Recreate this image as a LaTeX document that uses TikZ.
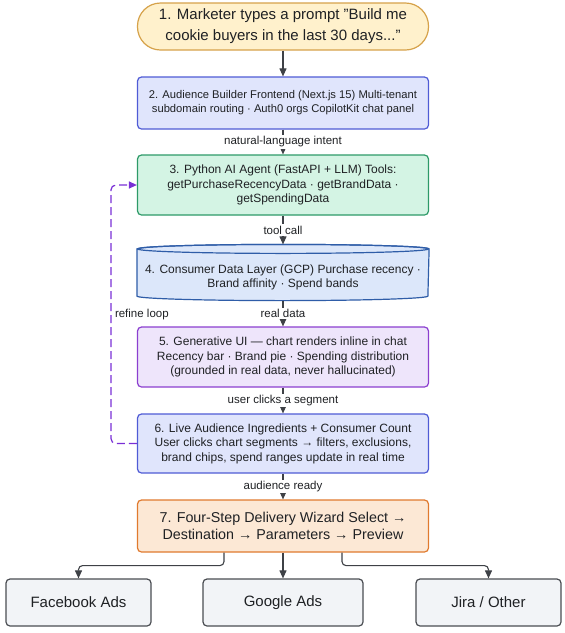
\documentclass[tikz,border=0pt]{standalone}
\usepackage{fontspec}
\setmainfont{Liberation Sans}
\usetikzlibrary{positioning, arrows.meta, backgrounds}

\definecolor{txt}{HTML}{1F2124}
\definecolor{ink}{HTML}{3E4146}
\definecolor{startfill}{HTML}{FFF1CC}
\definecolor{startdraw}{HTML}{D6A24A}
\definecolor{bluefill}{HTML}{E0E5FC}
\definecolor{bluedraw}{HTML}{4F5BD5}
\definecolor{greenfill}{HTML}{D4F4E4}
\definecolor{greendraw}{HTML}{2D9A68}
\definecolor{datafill}{HTML}{DCE7FA}
\definecolor{datadraw}{HTML}{2F5DA8}
\definecolor{purplefill}{HTML}{EEE5FB}
\definecolor{purpledraw}{HTML}{8B3FCF}
\definecolor{orangefill}{HTML}{FCE8D5}
\definecolor{orangedraw}{HTML}{E07A2E}
\definecolor{greyfill}{HTML}{F2F4F7}
\definecolor{greydraw}{HTML}{4A4D52}
\definecolor{loopc}{HTML}{7A2FD6}

\begin{document}
\begin{tikzpicture}[x=1pt,y=1pt,node distance=27pt,
  box/.style={rectangle,rounded corners=4pt,line width=1.2pt,minimum width=291pt,
    align=center,text=txt,font=\fontsize{12}{14.5}\selectfont},
  start node/.style={box,rounded corners=23pt,draw=startdraw,fill=startfill,
    minimum height=47pt,font=\fontsize{15}{21}\selectfont},
  front node/.style={box,draw=bluedraw,fill=bluefill,minimum height=52pt,
    font=\fontsize{11.2}{14}\selectfont},
  agent node/.style={box,draw=greendraw,fill=greenfill,minimum height=60pt},
  data node/.style={box,draw=none,minimum height=55pt,
    font=\fontsize{12}{14}\selectfont},
  ui node/.style={box,draw=purpledraw,fill=purplefill,minimum height=60pt},
  live node/.style={box,draw=bluedraw,fill=bluefill,minimum height=59pt},
  wizard node/.style={box,draw=orangedraw,fill=orangefill,minimum height=52pt,
    font=\fontsize{14.3}{16.7}\selectfont},
  dest node/.style={box,draw=greydraw,fill=greyfill,minimum height=47pt,
    minimum width=145pt,font=\fontsize{15}{18}\selectfont},
  flow/.style={draw=ink,line width=1.1pt,-{Triangle[length=8pt,width=7pt]}},
  lbl/.style={fill=white,text=txt,inner sep=1.5pt,font=\fontsize{11.5}{13}\selectfont},
  loopline/.style={draw=loopc,line width=1.2pt,dash pattern=on 8pt off 4pt,
    rounded corners=5pt,-{Triangle[length=8pt,width=7pt]}}]

  \useasboundingbox (0,0) rectangle (565,-633);

  % main column
  \node[start node] (n1) at (283,-26.5) {1. Marketer types a prompt "Build me\\cookie buyers in the last 30 days..."};
  \node[front node] (n2) [below=25.8pt of n1] {2. Audience Builder Frontend (Next.js 15) Multi-tenant\\subdomain routing · Auth0 orgs CopilotKit chat panel};
  \node[agent node] (n3) [below=24.8pt of n2] {3. Python AI Agent (FastAPI + LLM) Tools:\\getPurchaseRecencyData · getBrandData ·\\getSpendingData};
  \node[data node] (n4) [below=28.8pt of n3] {\mbox{}\\[4pt]4. Consumer Data Layer (GCP) Purchase recency ·\\Brand affinity · Spend bands};
  \node[ui node] (n5) [below=25.8pt of n4] {5. Generative UI — chart renders inline in chat\\Recency bar · Brand pie · Spending distribution\\(grounded in real data, never hallucinated)};
  \node[live node] (n6) [below=25.8pt of n5] {6. Live Audience Ingredients + Consumer Count\\User clicks chart segments → filters, exclusions,\\brand chips, spend ranges update in real time};
  \node[wizard node] (n7) [below=25.8pt of n6] {7. Four-Step Delivery Wizard Select →\\Destination → Parameters → Preview};

  % destinations
  \node[dest node,minimum width=160pt] (gads) [below=25.8pt of n7] {Google Ads};
  \node[dest node] (fb) [left=50.8pt of gads] {Facebook Ads};
  \node[dest node] (jira) [right=51.8pt of gads] {Jira / Other};

  % data store drawn as a cylinder
  \begin{scope}[on background layer]
    \path[draw=datadraw,fill=datafill,line width=1.2pt]
      ([yshift=-4.5pt]n4.north west) -- ([yshift=4.5pt]n4.south west)
      arc[start angle=180,end angle=360,x radius=145.5pt,y radius=4.5pt]
      -- ([yshift=-4.5pt]n4.north east)
      arc[start angle=0,end angle=180,x radius=145.5pt,y radius=4.5pt] -- cycle;
    \draw[datadraw,line width=1.2pt] ([yshift=-4.5pt]n4.north) ellipse[x radius=145.5pt,y radius=4.5pt];
  \end{scope}

  \draw[flow] (n1) -- (n2);
  \foreach \s/\t/\l in {n2/n3/natural-language intent, n3/n4/tool call,
    n4/n5/real data, n5/n6/user clicks a segment, n6/n7/audience ready} {
    \draw[flow] (\s) -- node[lbl] {\l} (\t);}

  \draw[flow] (n7) -- (gads);
  \draw[flow,rounded corners=4pt] ([xshift=-59pt]n7.south) -- ++(0,-13pt) -| (fb.north);
  \draw[flow,rounded corners=4pt] ([xshift=59pt]n7.south) -- ++(0,-13pt) -| (jira.north);

  % refine loop
  \draw[loopline] (n6.west) -- ++(-26pt,0) coordinate (lp)
    -- node[midway,right=2pt,lbl,fill=none] {refine loop} (lp |- n3.west) -- (n3.west);
\end{tikzpicture}
\end{document}
